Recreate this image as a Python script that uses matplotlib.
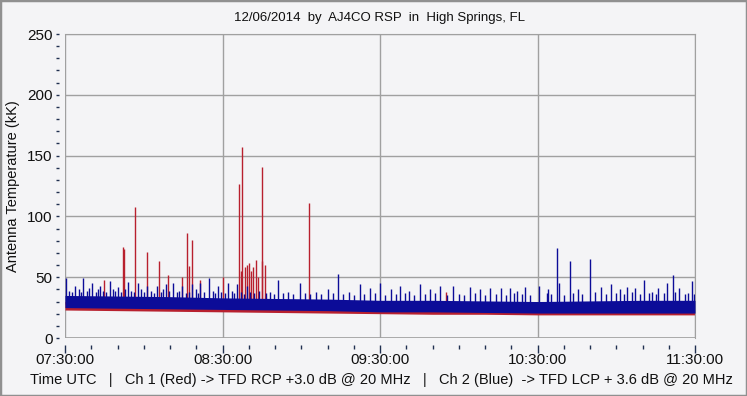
import matplotlib
matplotlib.use("Agg")
import matplotlib.pyplot as plt
from matplotlib.patches import Rectangle

# ---- data (minutes after 07:30 UTC, antenna temperature in kK) ----
env_t = [0, 20, 40, 60, 80, 100, 120, 140, 160, 180, 200, 220, 240]
blue_low = [25, 24.5, 24, 23.5, 23, 22.5, 21.5, 21.5, 21, 20.5, 20.5, 20.5, 20.5]
blue_high = [35, 34.5, 34, 33, 32.5, 32, 31, 31, 30.5, 30, 30.5, 31, 31]
red_low = [23, 22.5, 22, 21.5, 21, 20.5, 20, 19.5, 19.5, 19, 19, 19, 19]
red_high = [30, 29.5, 29, 28, 27.5, 27, 26, 26, 25.5, 25, 25, 25, 25]

red_spike_t = [15.0, 22.1, 22.5, 26.6, 31.4, 35.9, 39.4, 44.7, 46.6, 47.2, 48.5, 51.4,
               60.3, 66.4, 66.9, 67.5, 68.6, 69.3, 70.1, 70.9, 71.6, 72.8, 73.5, 74.9,
               75.2, 76.2, 93.1, 145.0]
red_spike_v = [48, 75, 73, 108, 71, 63, 52, 50, 86, 59, 81, 48,
               50, 127, 55, 157, 58, 60, 62, 55, 58, 64, 50, 63,
               141, 60, 111, 38]

blue_spike_t = [0.2, 3.8, 7.0, 10.4, 13.3, 17.1, 20.2, 24.0, 27.8, 31.2, 35.1, 38.5,
                41.1, 44.6, 48.4, 51.4, 54.9, 58.3, 62.2, 65.6, 69.3, 81.3, 89.5, 104.0,
                112.4, 120.0, 127.6, 135.2, 142.8, 147.8, 154.3, 161.9, 169.5, 175.2,
                180.4, 187.6, 188.0, 192.5, 195.5, 200.1, 204.0, 208.0, 211.6, 217.0,
                220.7, 229.4, 231.8, 234.0, 238.8, 100.0, 116.0, 124.0, 131.0, 139.0,
                158.0, 166.0, 172.0, 184.0, 214.0, 226.0]
blue_spike_v = [49, 43, 49, 45, 43, 47, 42, 46, 45, 43, 43, 44,
                45, 43, 44, 45, 49, 43, 45, 44, 43, 48, 45, 53,
                44, 45, 43, 44, 43, 43, 42, 41, 41, 42,
                43, 74, 45, 63, 40, 65, 42, 44, 40, 41,
                48, 45, 52, 41, 47, 40, 41, 40, 39, 40,
                40, 41, 39, 40, 42, 41]

# small excursions along the top of the blue band
blue_bump_t = [1.5, 2.6, 5.2, 6.1, 8.5, 9.3, 11.8, 12.4, 14.6, 15.8, 18.3, 19.1,
               21.5, 22.9, 25.3, 26.4, 29.0, 30.1, 32.6, 33.8, 36.4, 37.2, 39.8,
               42.5, 43.3, 46.0, 47.3, 49.8, 50.5, 53.0, 56.2, 57.1, 59.6, 61.0,
               63.5, 64.4, 67.0, 68.1, 70.6, 72.0, 74.0, 76.5, 78.0, 79.5, 83.0,
               85.0, 87.0, 91.5, 93.5, 95.5, 97.5, 102.0, 106.0, 108.0, 110.0,
               114.0, 118.0, 122.0, 126.0, 129.5, 133.0, 137.0, 141.0, 145.5, 150.0,
               152.0, 156.0, 160.0, 164.0, 168.0, 171.0, 174.0, 177.0, 183.5, 185.0,
               190.0, 193.5, 197.0, 202.0, 206.0, 210.0, 213.0, 216.0, 219.0, 222.5,
               223.5, 225.0, 228.0, 232.5, 236.0, 237.5, 239.5]
blue_bump_v = [39, 38, 40, 38, 39, 41, 38, 40, 39, 38, 40, 39,
               38, 40, 39, 38, 40, 38, 39, 37, 38, 40, 39,
               38, 39, 37, 38, 40, 37, 38, 39, 37, 38, 37,
               39, 37, 38, 36, 38, 37, 39, 37, 38, 36, 37,
               38, 36, 37, 36, 38, 36, 37, 36, 38, 35,
               36, 37, 35, 36, 37, 35, 36, 37, 35, 36,
               35, 37, 35, 36, 35, 37, 36, 35, 37, 36,
               35, 37, 36, 38, 36, 37, 36, 38, 36, 37,
               38, 36, 37, 38, 36, 37, 36]

y_ticks = [0, 50, 100, 150, 200, 250]
x_ticks = [0, 60, 120, 180, 240]
x_labels = ["07:30:00", "08:30:00", "09:30:00", "10:30:00", "11:30:00"]

title = "12/06/2014  by  AJ4CO RSP  in  High Springs, FL"
ylabel = "Antenna Temperature (kK)"
footer = ("Time UTC   |   Ch 1 (Red) -> TFD RCP +3.0 dB @ 20 MHz   |   "
          "Ch 2 (Blue)  -> TFD LCP + 3.6 dB @ 20 MHz")

# ---- styling ----
BG = "#f4f4f6"
GRID = "#a0a0a0"
RED = "#b8202e"
BLUE = "#0c0c98"
TXT = "#101010"
plt.rcParams['font.family'] = ['Liberation Sans', 'DejaVu Sans']

fig = plt.figure(figsize=(7.47, 3.96), dpi=100, facecolor=BG)
ax = fig.add_axes([65/747, 1-338/396, 630/747, 304/396], facecolor=BG)

# red channel
ax.fill_between(env_t, red_low, red_high, color=RED, lw=0, zorder=2)
ax.vlines(red_spike_t, [24]*len(red_spike_t), red_spike_v, color=RED, lw=1.0, zorder=3)
# blue channel
ax.fill_between(env_t, blue_low, blue_high, color=BLUE, lw=0, zorder=4)
ax.vlines(blue_bump_t, [28]*len(blue_bump_t), blue_bump_v, color=BLUE, lw=1.0, zorder=5)
ax.vlines(blue_spike_t, [28]*len(blue_spike_t), blue_spike_v, color=BLUE, lw=1.0, zorder=5)

ax.set_xlim(0, 240)
ax.set_ylim(0, 250)

ax.set_xticks(x_ticks)
ax.set_xticklabels(x_labels)
ax.set_xticks(range(0, 241, 10), minor=True)
ax.set_yticks(y_ticks)
ax.set_yticks(range(0, 251, 10), minor=True)

ax.grid(True, which='major', color=GRID, lw=1, zorder=1)
ax.set_axisbelow(True)

for s in ['top', 'right']:
    ax.spines[s].set_color(GRID)
ax.spines['bottom'].set_position(('outward', 5))
ax.spines['left'].set_position(('outward', 4))
ax.spines['bottom'].set_visible(False)
ax.spines['left'].set_visible(False)
ax.axhline(0, color=GRID, lw=1.2, zorder=1)
ax.axvline(0, color=GRID, lw=1.2, zorder=1)

ax.tick_params(axis='x', which='major', length=6, width=1, color="#203050",
               labelsize=11, pad=0, labelcolor=TXT)
ax.tick_params(axis='x', which='minor', length=3, width=1, color="#203050")
ax.tick_params(axis='y', which='major', length=2, width=1, color="#203050",
               labelsize=11, pad=3, labelcolor=TXT)
ax.tick_params(axis='y', which='minor', length=2, width=1, color="#203050")

ax.set_ylabel(ylabel, fontsize=10.5, color=TXT)
ax.yaxis.set_label_coords(-45/630, 0.5)

fig.text(380/747, 1-18/396, title, ha='center', va='center', fontsize=9.5, color=TXT)
fig.text(30/747, 1-380/396, footer, ha='left', va='center', fontsize=10.5, color=TXT)

fig.patches.append(Rectangle((0, 0), 1, 1, transform=fig.transFigure, fill=False,
                             edgecolor="#909090", lw=2.5))

fig.savefig("out.png", dpi=100, facecolor=BG)
